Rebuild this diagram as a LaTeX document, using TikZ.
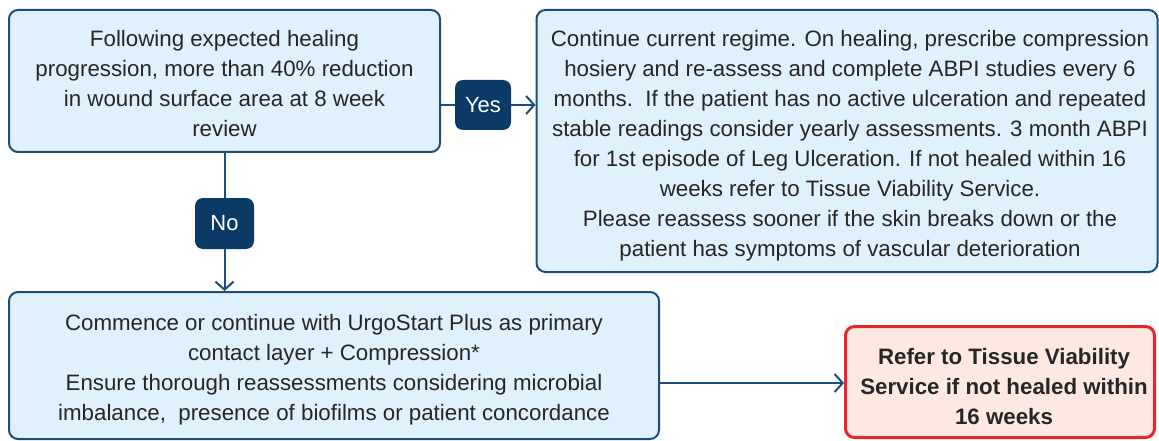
\documentclass[tikz,border=0pt]{standalone}
\usepackage{fontspec}
\setmainfont{Liberation Sans}
\usetikzlibrary{arrows.meta}
\definecolor{boxborder}{HTML}{1C4E7C}
\definecolor{boxfill}{HTML}{DFF1FC}
\definecolor{badgefill}{HTML}{0C3A66}
\definecolor{redborder}{HTML}{E5262B}
\definecolor{redfill}{HTML}{FDE9E1}
\definecolor{txt}{HTML}{262626}
\begin{document}
\begin{tikzpicture}[x=1pt,y=-1pt,
  infobox/.style={draw=boxborder,fill=boxfill,line width=2pt,rounded corners=9pt,inner sep=0pt},
  alertbox/.style={draw=redborder,fill=redfill,line width=3pt,rounded corners=9pt,inner sep=0pt},
  boxtext/.style={align=center,text=txt,font=\fontsize{22.3}{30}\selectfont,inner sep=0pt},
  alerttext/.style={boxtext,font=\fontsize{22.3}{30}\selectfont\bfseries},
  badge/.style={fill=badgefill,rounded corners=8pt,text=white,
    font=\fontsize{22}{26}\selectfont,inner sep=0pt},
  link/.style={draw=boxborder,line width=2pt},
  arr/.style={link,-{Straight Barb[length=8pt,width=18pt,line width=2pt]}}
]
\useasboundingbox (0,0) rectangle (1159,441);
\fill[white] (0,0) rectangle (1159,441);

\node[infobox,minimum width=431pt,minimum height=142pt] (a) at (224.5,81) {};
\node[boxtext] (atext) at (224.5,84)
 {Following expected healing\\progression, more than 40\% reduction\\in wound surface area at 8 week\\review};

\node[infobox,minimum width=621pt,minimum height=262pt] (b) at (847,141) {};
\node[boxtext] (btext) at (850,146)
 {Continue current regime. On healing, prescribe compression\\
  hosiery and re-assess and complete ABPI studies every 6\\
  months.\ \ If the patient has no active ulceration and repeated\\
  stable readings consider yearly assessments. 3 month ABPI\\
  for 1st episode of Leg Ulceration. If not healed within 16\\
  weeks refer to Tissue Viability Service.\\
  Please reassess sooner if the skin breaks down or the\\
  patient has symptoms of vascular deterioration};

\node[infobox,minimum width=650pt,minimum height=147pt] (c) at (334,365.5) {};
\node[boxtext] (ctext) at (334,370)
 {Commence or continue with UrgoStart Plus as primary\\
  contact layer + Compression*\\
  Ensure thorough reassessments considering microbial\\
  imbalance,\ \ presence of biofilms or patient concordance};

\node[alertbox,minimum width=309pt,minimum height=111pt] (d) at (1000,382) {};
\node[alerttext] (dtext) at (1004,387)
 {Refer to Tissue Viability\\Service if not healed within\\16 weeks};

\node[badge,minimum width=56pt,minimum height=50pt] (yes) at (483,105) {Yes};
\node[badge,minimum width=59pt,minimum height=51pt] (no) at (224.5,223.5) {No};

\draw[link] (a.east |- yes) -- (yes.west);
\draw[arr] (yes.east) -- (b.west |- yes);
\draw[link] (a.south -| no) -- (no.north);
\draw[arr] (no.south) -- (c.north -| no);
\path (c.east |- d) ++(0,1) coordinate (cs);
\draw[arr] (cs) -- (d.west |- cs);
\end{tikzpicture}
\end{document}
